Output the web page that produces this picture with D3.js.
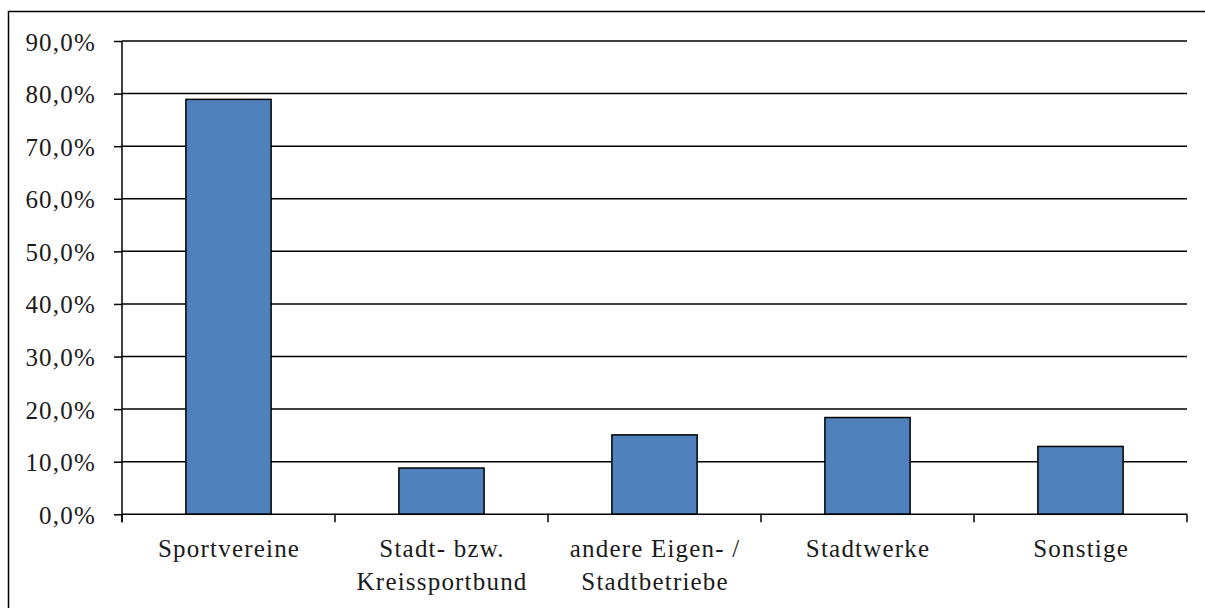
<!DOCTYPE html>
<html><head><meta charset="utf-8">
<script src="https://cdn.jsdelivr.net/npm/d3@7"></script>
<style>body{margin:0;background:#fff}svg{display:block}text{font-family:"Liberation Serif","DejaVu Serif",serif;fill:#1a1a1a}</style>
</head><body>
<svg id="c" width="1205" height="608"></svg>
<script>
const categories = [["Sportvereine"],["Stadt- bzw.","Kreissportbund"],["andere Eigen- /","Stadtbetriebe"],["Stadtwerke"],["Sonstige"]];
const values = [0.789, 0.088, 0.151, 0.184, 0.129];
const yTicks = [0,0.1,0.2,0.3,0.4,0.5,0.6,0.7,0.8,0.9];
const fmt = v => (v*100).toFixed(1).replace(".", ",") + "%";

const svg = d3.select("#c");
svg.append("rect").attr("x",8.5).attr("y",11.5).attr("width",1210).attr("height",610)
  .attr("fill","none").attr("stroke","#000").attr("stroke-width",1.5);

const L=122, R=1187, T=41, B=514.3;
const x = d3.scaleBand().domain(d3.range(categories.length)).range([L,R]).padding(0);
const y = d3.scaleLinear().domain([0,0.9]).range([B,T]);

// gridlines
svg.append("g").selectAll("line").data(yTicks.slice(1)).join("line")
  .attr("x1",L).attr("x2",R).attr("y1",d=>y(d)).attr("y2",d=>y(d))
  .attr("stroke","#000").attr("stroke-width",1.5);

// bars
const bw = x.bandwidth()*0.4;
svg.append("g").selectAll("rect").data(values).join("rect")
  .attr("x",(d,i)=>x(i)+(x.bandwidth()-bw)/2).attr("width",bw)
  .attr("y",d=>y(d)).attr("height",d=>B-y(d))
  .attr("fill","#4f81bd").attr("stroke","#000").attr("stroke-width",1.5);

// y axis
const ya = svg.append("g").attr("transform",`translate(${L},0)`)
  .call(d3.axisLeft(y).tickValues(yTicks).tickFormat(fmt).tickSize(8).tickPadding(18));
ya.select(".domain").remove();
ya.append("line").attr("x1",0).attr("x2",0).attr("y1",T).attr("y2",B+8).attr("stroke","#000").attr("stroke-width",1.5);
ya.selectAll(".tick line").attr("stroke","#000").attr("stroke-width",1.5);
ya.selectAll(".tick text").attr("font-size",25).attr("letter-spacing","1.2px")
  .style("font-family",'"Liberation Serif",serif').attr("fill","#1a1a1a").attr("dy","0.36em").attr("x",-26);

// x axis
const xa = svg.append("g");
xa.append("line").attr("x1",L).attr("x2",R).attr("y1",B).attr("y2",B).attr("stroke","#000").attr("stroke-width",1.5);
const bounds = d3.range(categories.length+1).map(i => i<categories.length ? x(i) : x(i-1)+x.bandwidth());
xa.selectAll("line.t").data(bounds).join("line").attr("class","t")
  .attr("x1",d=>d).attr("x2",d=>d).attr("y1",B).attr("y2",B+8).attr("stroke","#000").attr("stroke-width",1.5);
const lab = xa.selectAll("text").data(categories).join("text")
  .attr("text-anchor","middle").attr("font-size",25).attr("letter-spacing","1.2px")
  .attr("x",(d,i)=>x(i)+x.bandwidth()/2+0.6).attr("y",557);
lab.selectAll("tspan").data(d=>d).join("tspan")
  .attr("x",function(){return this.parentNode.getAttribute("x");})
  .attr("dy",(d,j)=>j?33:0).text(d=>d);
</script>
</body></html>
